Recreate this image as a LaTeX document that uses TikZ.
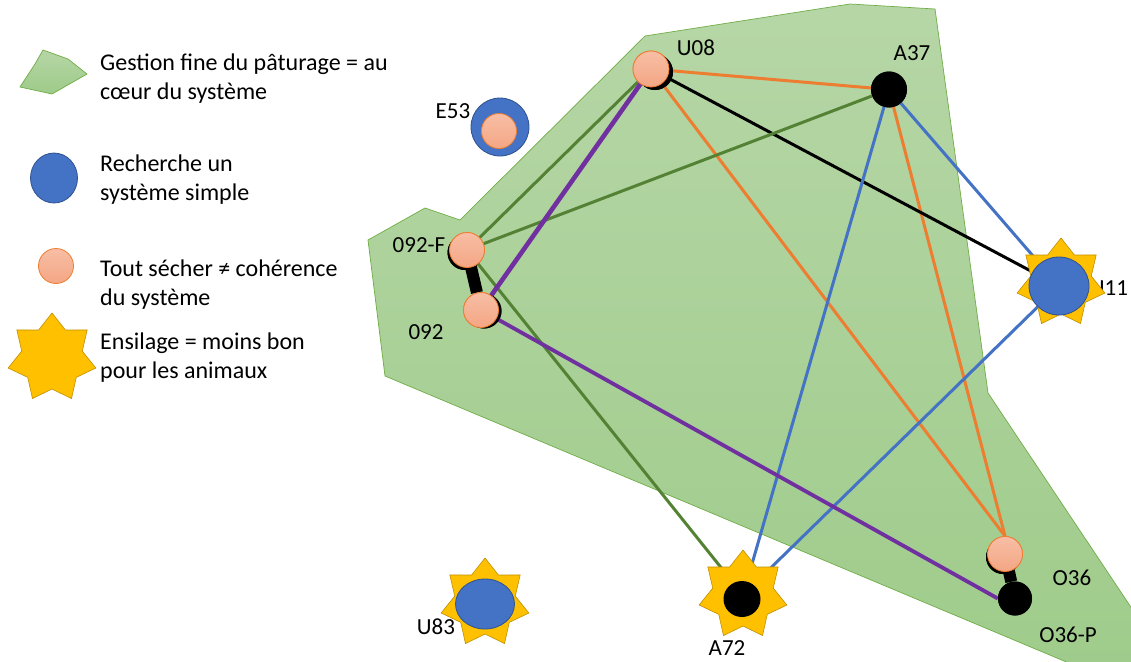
\documentclass[tikz,border=0pt]{standalone}
\usepackage{fontspec}
\setmainfont{Carlito}
\usetikzlibrary{shapes.geometric}
\definecolor{gfillA}{RGB}{182,214,166}
\definecolor{gfillB}{RGB}{157,203,137}
\definecolor{gline}{RGB}{112,173,71}
\definecolor{peachA}{RGB}{247,190,165}
\definecolor{peachB}{RGB}{244,166,132}
\definecolor{peachline}{RGB}{237,125,49}
\definecolor{blueF}{RGB}{68,114,196}
\definecolor{blueL}{RGB}{47,82,143}
\definecolor{goldF}{RGB}{255,192,0}
\definecolor{goldL}{RGB}{191,144,0}
\definecolor{eorange}{RGB}{237,125,49}
\definecolor{eblue}{RGB}{68,114,196}
\definecolor{egreen}{RGB}{84,130,53}
\definecolor{epurple}{RGB}{112,48,160}
\begin{document}
\begin{tikzpicture}[x=1pt,y=-1pt,
  peach/.style={circle, draw=peachline, line width=0.8pt, top color=peachA, bottom color=peachB, minimum size=#1, inner sep=0pt},
  peach/.default=36pt,
  blackdot/.style={circle, fill=black, minimum size=#1, inner sep=0pt},
  blackdot/.default=36pt,
  bluedot/.style={ellipse, draw=blueL, line width=0.8pt, fill=blueF, inner sep=0pt},
  star7/.style={star, star points=7, star point ratio=1.45, draw=goldL, line width=0.6pt, fill=goldF, minimum size=90pt, inner sep=0pt},
  zone/.style={draw=gline, line width=0.7pt, top color=gfillA, bottom color=gfillB},
  lbl/.style={font=\fontsize{23}{27}\selectfont, inner sep=0pt},
  legtxt/.style={font=\fontsize{24}{28.7}\selectfont, align=left, anchor=base west, inner sep=0pt},
  link/.style={line width=3pt},
  tie/.style={line width=12pt, black},
]
\useasboundingbox (0,0) rectangle (1131,661);

% main zone
\begin{scope}
\clip (0,0) rectangle (1131,661);
\path[zone] (645,36) -- (850,4) -- (935,9) -- (988,393) -- (1207,721) -- (385,376) -- (368,240) -- (425,208) -- (460,220) -- cycle;
\end{scope}

% legend (anchor = baseline of the last line)
\path[zone] (20,87) -- (35,64) -- (43,50) -- (68,59) -- (87,74) -- (52,94) -- cycle;
\node[legtxt] (Lg1) at (100,99.5) {Gestion fine du pâturage = au\\cœur du système};
\node[bluedot, minimum width=47pt, minimum height=50pt] (Lb) at (54,178) {};
\node[legtxt] (Lg2) at (100,200.5) {Recherche un\\système simple};
\node[peach=35pt] (Lp) at (56,266) {};
\node[legtxt] (Lg3) at (100,305.5) {Tout sécher ≠ cohérence\\du système};
\node[star7] (Ls) at (52,358) {};
\node[legtxt] (Lg4) at (100,378.5) {Ensilage = moins bon\\pour les animaux};

% nodes
\node[blackdot] (U08s) at (655,72) {};
\node[peach] (U08) at (651,69) {};
\node[blackdot] (A37) at (889,89.5) {};
\node[blackdot=35pt] (O92Fs) at (465,252.5) {};
\node[peach=35pt] (O92F) at (467,250) {};
\node[blackdot=35pt] (O92s) at (484,311) {};
\node[peach=35pt] (O92) at (481,310) {};
\node[blackdot=34pt] (O36s) at (1003,557) {};
\node[peach=35pt] (O36) at (1005,554) {};
\node[blackdot=34pt] (O36P) at (1015,598.5) {};
\coordinate (U11c) at (1059,286);
\coordinate (A72c) at (743,595);

% label behind U11 star
\node[lbl] (tU11) at (1109,288) {U11};

% links
\draw[link, eorange] (U08) -- (A37);
\draw[link, eorange] (U08) -- (O36.north);
\draw[link, eorange] (A37) -- (O36.north);
\draw[link, black] (U08) -- (U11c);
\draw[link, eblue] (A37) -- (U11c);
\draw[link, eblue] (A37) -- (A72c);
\draw[link, eblue] (U11c) -- (A72c);
\draw[link, egreen] (U08) -- (O92F);
\draw[link, egreen] (A37) -- (O92F);
\draw[link, egreen] (O92F) -- (A72c);
\draw[line width=4.6pt, epurple] (U08) -- (O92);
\draw[line width=3.8pt, epurple] (O92) -- (O36P.west);
\draw[tie] (O92F) -- (O92);
\draw[tie] (O36) -- (O36P);

% nodes redrawn on top of links
\node[blackdot] (U08s2) at (655,72) {};
\node[peach] (U08b) at (651,69) {};
\node[blackdot] (A37b) at (889,89.5) {};
\node[blackdot=35pt] (O92Fs2) at (465,252.5) {};
\node[peach=35pt] (O92Fb) at (467,250) {};
\node[blackdot=35pt] (O92s2) at (484,311) {};
\node[peach=35pt] (O92b) at (481,310) {};
\node[blackdot=34pt] (O36s2) at (1003,557) {};
\node[peach=35pt] (O36b) at (1005,554) {};
\node[blackdot=34pt] (O36Pb) at (1015,598.5) {};

\node[bluedot, minimum width=58pt, minimum height=58pt] (E53) at (500,127) {};
\node[peach=35pt] (E53in) at (499,131) {};

\node[star7] (U11s) at (1061,283) {};
\node[bluedot, minimum width=60pt, minimum height=58pt] (U11) at (U11c) {};
\node[star7] (A72s) at (A72c) {};
\node[ellipse, fill=black, minimum width=37pt, minimum height=36pt, inner sep=0pt] (A72) at (742,599) {};
\node[star7] (U83s) at (485,603) {};
\node[bluedot, minimum width=59pt, minimum height=50pt] (U83) at (485,604) {};

% labels
\node[lbl] (tU08) at (696,48) {U08};
\node[lbl] (tA37) at (912,53) {A37};
\node[lbl] (tE53) at (453,111) {E53};
\node[lbl] (tO92F) at (419,245) {092-F};
\node[lbl] (tO92) at (426,332) {092};
\node[lbl] (tA72) at (727,648.5) {A72};
\node[lbl] (tU83) at (436,627) {U83};
\node[lbl] (tO36) at (1072,578) {O36};
\node[lbl] (tO36P) at (1068,635) {O36-P};
\end{tikzpicture}
\end{document}
